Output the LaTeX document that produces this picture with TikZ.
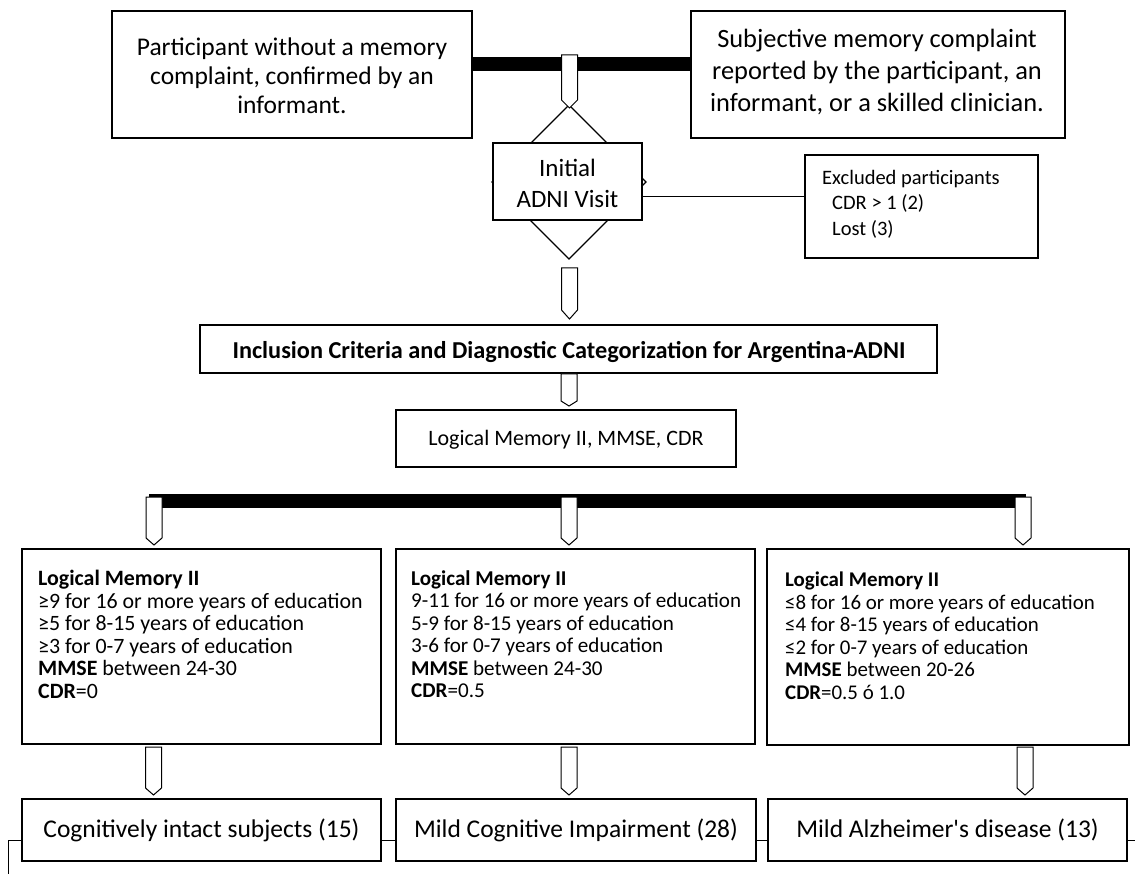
\documentclass[tikz,border=0pt]{standalone}
\usepackage{fontspec}
\setmainfont{Carlito}[Ligatures=TeXOff]
\begin{document}
\begin{tikzpicture}[x=1pt,y=-1pt,line join=miter,
  box/.style={draw,line width=1.2pt,fill=white,inner sep=0pt},
  txt/.style={inner sep=0pt,align=center},
  crit/.style={inner sep=0pt,align=left,anchor=north west,font=\fontsize{21.9}{22.5}\selectfont},
  blk/.style={draw,line width=1pt,fill=white},
  bar/.style={fill=black},
  link/.style={draw,line width=1pt}]
\useasboundingbox (0,0) rectangle (1135,874);
\newcommand\blockarrow[4]{\draw[blk] (#1-8,#2) -- (#1+8,#2) -- (#1+8,#3) -- (#1,#4) -- (#1-8,#3) -- cycle;}

% top boxes and bar
\fill[bar] (471,57) rectangle (691,71);
\node (tl) [box,minimum width=360pt,minimum height=127pt] at (292,74.5) {};
\node (tlt) [txt,font=\fontsize{25.5}{29}\selectfont] at (292,75.5) {Participant without a memory\\complaint, confirmed by an\\informant.};
\node (tr) [box,minimum width=374pt,minimum height=127pt] at (878,74.5) {};
\node (trt) [txt,font=\fontsize{26.4}{32}\selectfont] at (877,72) {Subjective memory complaint\\reported by the participant, an\\informant, or a skilled clinician.};

% diamond and initial visit
\draw[line width=1.2pt,fill=white] (569,105) -- (646,182) -- (569,259) -- (492,182) -- cycle;
\blockarrow{569.5}{55}{100}{108}
\node (init) [box,minimum width=149pt,minimum height=77pt] at (567.5,181.5) {};
\node (initt) [txt,font=\fontsize{25}{31}\selectfont] at (567.5,183.5) {Initial\\ADNI Visit};

% excluded
\node (excl) [box,minimum width=233pt,minimum height=103pt] at (921.5,206.5) {};
\node (exclt) [inner sep=0pt,align=left,anchor=north west,font=\fontsize{20.5}{25.5}\selectfont] at (822,170) {Excluded participants\\\hspace*{10pt}CDR > 1 (2)\\\hspace*{10pt}Lost (3)};
\coordinate (j1) at (642,197);
\draw[line width=1pt] (j1) -- (j1 -| excl.west);

\blockarrow{569.5}{268}{310}{319}

% inclusion
\node (incl) [box,minimum width=737pt,minimum height=48pt] at (568.5,349) {};
\node (inclt) [txt,font=\fontsize{24.3}{28}\selectfont\bfseries] at (569,352) {Inclusion Criteria and Diagnostic Categorization for Argentina-ADNI};
\blockarrow{569}{374}{401}{406}

\node (lm) [box,minimum width=340pt,minimum height=57pt] at (566,438.5) {};
\node (lmt) [txt,font=\fontsize{22}{27}\selectfont] at (566,440) {Logical Memory II, MMSE, CDR};

% second bar
\fill[bar] (149,494) rectangle (1026,508);
\blockarrow{154}{497}{538}{545}
\blockarrow{569}{497}{538}{545}
\blockarrow{1023}{497}{538}{545}

% criteria boxes
\node (c1) [box,minimum width=359pt,minimum height=195pt] at (201.5,646.5) {};
\node (c2) [box,minimum width=359pt,minimum height=195pt] at (575.5,646.5) {};
\node (c3) [box,minimum width=362pt,minimum height=196pt] at (948,647) {};
\node (c1t) [crit] at (38,570) {\textbf{Logical Memory II}\\≥9 for 16 or more years of education\\≥5 for 8-15 years of education\\≥3 for 0-7 years of education\\\textbf{MMSE} between 24-30\\\textbf{CDR}=0};
\node (c2t) [crit,font=\fontsize{21.1}{22.5}\selectfont] at (411,570) {\textbf{Logical Memory II}\\9-11 for 16 or more years of education\\5-9 for 8-15 years of education\\3-6 for 0-7 years of education\\\textbf{MMSE} between 24-30\\\textbf{CDR}=0.5};
\node (c3t) [crit,font=\fontsize{20.9}{22.5}\selectfont] at (785,572) {\textbf{Logical Memory II}\\≤8 for 16 or more years of education\\≤4 for 8-15 years of education\\≤2 for 0-7 years of education\\\textbf{MMSE} between 20-26\\\textbf{CDR}=0.5 ó 1.0};

\blockarrow{153.5}{747}{788}{795}
\blockarrow{569}{747}{788}{795}
\blockarrow{1025}{747}{788}{795}

% outcome boxes
\node (b1) [box,minimum width=359pt,minimum height=62pt,font=\fontsize{25.5}{30}\selectfont] at (201.5,830) {Cognitively intact subjects (15)};
\node (b2) [box,minimum width=360pt,minimum height=62pt,font=\fontsize{25.5}{30}\selectfont] at (576,830) {Mild Cognitive Impairment (28)};
\node (b3) [box,minimum width=359pt,minimum height=62pt,font=\fontsize{25.5}{30}\selectfont] at (947.5,830) {Mild Alzheimer's disease (13)};
\draw[link] ([yshift=-10pt]b1.east) -- ([yshift=-10pt]b2.west);
\draw[link] ([yshift=-10pt]b2.east) -- ([yshift=-10pt]b3.west);
\coordinate (e1) at (8,874);
\draw[link] ([yshift=-10pt]b1.west) -| (e1);
\coordinate (e2) at (1135,840);
\draw[link] ([yshift=-10pt]b3.east) -- (e2);
\end{tikzpicture}
\end{document}
